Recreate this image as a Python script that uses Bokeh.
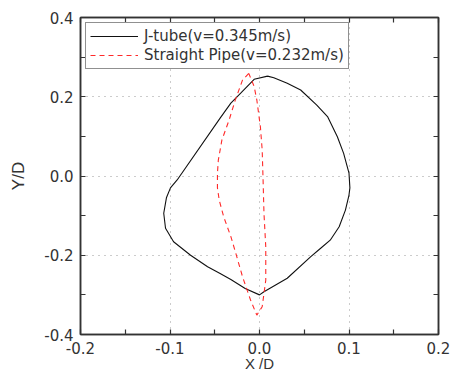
from bokeh.plotting import figure
from bokeh.models import (Range1d, FixedTicker, PrintfTickFormatter, LinearAxis,
                          Legend, LegendItem)
from bokeh.embed import file_html
from bokeh.resources import INLINE

# J-tube (v=0.345 m/s) cross-section contour
jtube_x = [0.009, 0.016, 0.031, 0.046, 0.064, 0.076, 0.087, 0.094, 0.100, 0.101,
           0.100, 0.096, 0.089, 0.079, 0.068, 0.057, 0.031, 0.005, 0.000, -0.016,
           -0.032, -0.044, -0.058, -0.077, -0.096, -0.105, -0.107, -0.104, -0.0995,
           -0.092, -0.044, -0.032, -0.021, -0.006, 0.009]
jtube_y = [0.252, 0.248, 0.234, 0.217, 0.179, 0.150, 0.099, 0.057, 0.007, -0.030,
           -0.048, -0.086, -0.128, -0.162, -0.183, -0.204, -0.258, -0.292, -0.300, -0.284,
           -0.261, -0.246, -0.229, -0.200, -0.166, -0.132, -0.094, -0.055, -0.030,
           -0.010, 0.146, 0.184, 0.209, 0.244, 0.252]

# Straight pipe (v=0.232 m/s) cross-section contour
pipe_x = [-0.012, -0.019, -0.027, -0.034, -0.042, -0.046, -0.047, -0.047, -0.045,
          -0.040, -0.032, -0.027, -0.019, -0.010, -0.003, 0.003, 0.007, 0.007, 0.005,
          0.004, 0.003, 0.001, -0.003, -0.006, -0.012]
pipe_y = [0.259, 0.242, 0.192, 0.141, 0.091, 0.040, 0.007, -0.030, -0.061,
          -0.103, -0.153, -0.191, -0.254, -0.313, -0.351, -0.330, -0.263, -0.179, -0.094,
          -0.010, 0.066, 0.124, 0.192, 0.226, 0.259]

x_ticks = [-0.2, -0.1, 0.0, 0.1, 0.2]
x_minor = [-0.15, -0.05, 0.05, 0.15]
y_ticks = [-0.4, -0.2, 0.0, 0.2, 0.4]
y_minor = [-0.3, -0.1, 0.1, 0.3]
labels = ["J-tube(v=0.345m/s)", "Straight Pipe(v=0.232m/s)"]

FONT = "Liberation Sans"
TFONT = "DejaVu Sans"
AX = "#333333"

p = figure(width=453, height=376, x_range=Range1d(-0.2, 0.2), y_range=Range1d(-0.4, 0.4),
           output_backend="svg", toolbar_location=None,
           min_border_left=80, min_border_right=15, min_border_top=17, min_border_bottom=42,
           x_axis_label="X /D", y_axis_label="Y/D")
p.outline_line_color = AX
p.outline_line_width = 1.5
p.background_fill_color = "white"
p.border_fill_color = "white"

p.xgrid.ticker = FixedTicker(ticks=[-0.1, 0.0, 0.1])
p.ygrid.ticker = FixedTicker(ticks=[-0.2, 0.0, 0.2])
for g in (p.xgrid, p.ygrid):
    g.grid_line_color = "#999999"
    g.grid_line_dash = "1 5"
    g.grid_line_width = 1

def style_ticks(ax):
    ax.axis_line_color = AX
    ax.axis_line_width = 1.5
    ax.major_tick_in = 5
    ax.major_tick_out = 0
    ax.minor_tick_in = 5
    ax.minor_tick_out = 0
    ax.major_tick_line_color = AX
    ax.minor_tick_line_color = AX
    ax.major_tick_line_width = 1.2
    ax.minor_tick_line_width = 1.2

def style_axis(ax, ticks, minor):
    ax.ticker = FixedTicker(ticks=ticks, minor_ticks=minor)
    ax.formatter = PrintfTickFormatter(format="%.1f")
    style_ticks(ax)
    ax.major_label_text_font = TFONT
    ax.major_label_text_color = "#333333"
    ax.major_label_text_font_size = "15px"
    ax.major_label_standoff = 7
    ax.axis_label_text_font = FONT
    ax.axis_label_text_font_style = "normal"
    ax.axis_label_text_color = "#333333"

style_axis(p.xaxis[0], x_ticks, x_minor)
style_axis(p.yaxis[0], y_ticks, y_minor)
p.xaxis[0].axis_label_text_font_size = "15px"
p.yaxis[0].axis_label_text_font_size = "17px"
p.xaxis[0].axis_label_standoff = -2
p.yaxis[0].axis_label_standoff = 13

# mirrored frame ticks on top and right (minor-only, so no labels)
top = LinearAxis(ticker=FixedTicker(ticks=[], minor_ticks=x_ticks + x_minor))
right = LinearAxis(ticker=FixedTicker(ticks=[], minor_ticks=y_ticks + y_minor))
for ax in (top, right):
    style_ticks(ax)
    ax.major_label_standoff = 0
p.add_layout(top, "above")
p.add_layout(right, "right")

r1 = p.line(jtube_x, jtube_y, line_color="#111111", line_width=1.1)
r2 = p.line(pipe_x, pipe_y, line_color="#ff2a2a", line_width=1.1, line_dash="5 4")

legend = Legend(items=[LegendItem(label=labels[0], renderers=[r1]),
                       LegendItem(label=labels[1], renderers=[r2])],
                location="top_left")
legend.margin = 5
legend.padding = 4
legend.spacing = 1
legend.glyph_width = 48
legend.glyph_height = 18
legend.label_height = 18
legend.label_standoff = 6
legend.label_text_font = TFONT
legend.label_text_font_size = "15px"
legend.label_text_color = "#333333"
legend.border_line_color = "#222222"
legend.border_line_width = 1.5
legend.background_fill_color = "white"
legend.background_fill_alpha = 1.0
p.add_layout(legend)

open("out.html", "w").write(file_html(p, INLINE))
